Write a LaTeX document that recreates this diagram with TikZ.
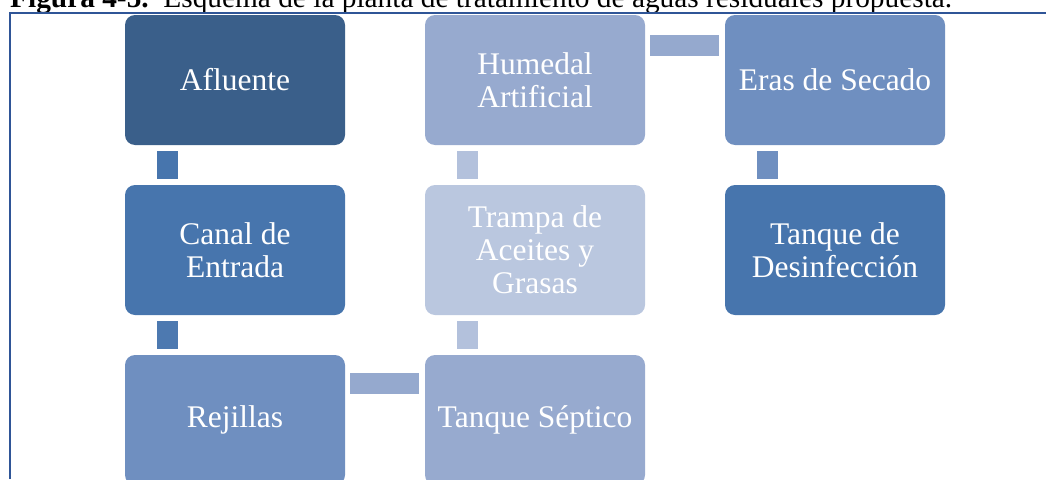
\documentclass[tikz,border=0pt]{standalone}
\usepackage{fontspec}
\setmainfont{Liberation Serif}
\usetikzlibrary{calc}
\definecolor{cA}{HTML}{3A5F8A}
\definecolor{cB}{HTML}{4775AD}
\definecolor{cC}{HTML}{6F8FC0}
\definecolor{cD}{HTML}{97AACF}
\definecolor{cE}{HTML}{BAC7DF}
\definecolor{frame}{HTML}{2F5597}
\tikzset{
  box/.style={rectangle, rounded corners=10pt, minimum width=220pt, minimum height=130pt,
    inner sep=0pt, text=white, align=center, font=\fontsize{31.5}{33}\selectfont},
  conn/.style={line width=21pt},
}
\begin{document}
\begin{tikzpicture}[x=1pt,y=-1pt]
\useasboundingbox (0,0) rectangle (1046,479);
\clip (0,0) rectangle (1046,479);
% caption
\node[anchor=base west, inner sep=0pt] (cap) at (10,7.5)
  {\resizebox{942pt}{!}{\textbf{Figura 4-5.}\enspace Esquema de la planta de tratamiento de aguas residuales propuesta.}};
% frame
\draw[frame, line width=2pt] (9.5,479) -- (9.5,12.5) -- (1046,12.5);
% boxes
\node[box, fill=cA] (af) at (235,80) {Afluente};
\node[box, fill=cB] (ca) at (235,250) {Canal de\\Entrada};
\node[box, fill=cC] (re) at (235,420) {Rejillas};
\node[box, fill=cD] (ts) at (535,420) {Tanque Séptico};
\node[box, fill=cE] (tr) at (535,250) {Trampa de\\Aceites y\\Grasas};
\node[box, fill=cD] (hu) at (535,80) {Humedal\\Artificial};
\node[box, fill=cC] (er) at (835,80) {Eras de Secado};
\node[box, fill=cB] (td) at (835,250) {Tanque de\\Desinfección};
% connectors
\draw[conn, draw=cB] ($(af.south west)+(42.5,6)$) -- ($(ca.north west)+(42.5,-6)$);
\draw[conn, draw=cB!85!cC] ($(ca.south west)+(42.5,6)$) -- ($(re.north west)+(42.5,-6)$);
\draw[conn, draw=cD!95!cC] ($(re.north east)+(5,29)$) -- ($(ts.north west)+(-6,29)$);
\draw[conn, draw=cE!80!cD] ($(ts.north west)+(42.5,-6)$) -- ($(tr.south west)+(42.5,6)$);
\draw[conn, draw=cE!80!cD] ($(tr.north west)+(42.5,-6)$) -- ($(hu.south west)+(42.5,6)$);
\draw[conn, draw=cD!95!cC] ($(hu.north east)+(5,30.5)$) -- ($(er.north west)+(-6,30.5)$);
\draw[conn, draw=cC] ($(er.south west)+(43,6)$) -- ($(td.north west)+(43,-6)$);
\end{tikzpicture}
\end{document}
